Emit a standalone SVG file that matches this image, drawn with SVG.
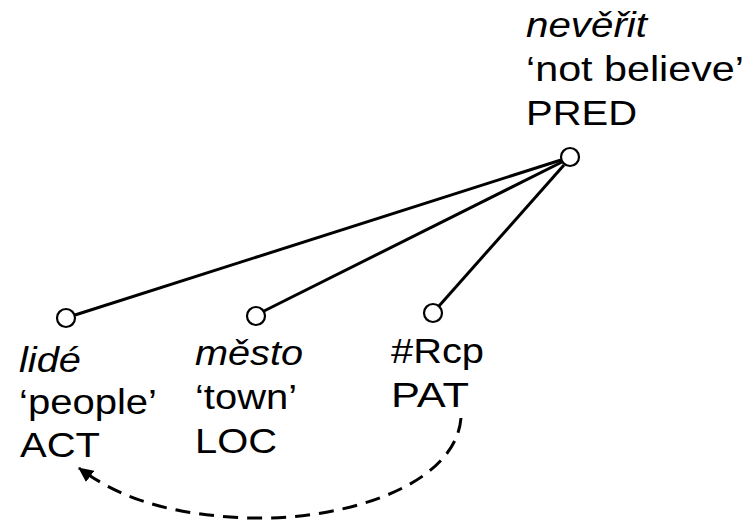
<svg xmlns="http://www.w3.org/2000/svg" width="747" height="521" viewBox="0 0 747 521">
<defs>
<style>
text{font-family:"Liberation Sans",Arial,sans-serif;font-size:35px;fill:#000}
.it{font-style:italic}
.node{fill:#fff;stroke:#000;stroke-width:2.2}
.edge{stroke:#000;stroke-width:3;fill:none}
.dash{stroke:#000;stroke-width:3;fill:none;stroke-dasharray:15 9}
</style>
<marker id="arr" markerWidth="16" markerHeight="14" refX="14" refY="7" orient="auto" markerUnits="userSpaceOnUse">
<path d="M0,0 L15,7 L0,14 Z" fill="#000"/>
</marker>
</defs>
<rect width="747" height="521" fill="#fff"/>
<g id="connectors">
<line class="edge" x1="561" y1="160" x2="75" y2="315"/>
<line class="edge" x1="562" y1="162" x2="264" y2="311"/>
<line class="edge" x1="564" y1="165" x2="439" y2="306"/>
<path class="dash" d="M461 418 C455 490 330 525 230 517 C160 512 115 495 79 468" marker-end="url(#arr)"/>
</g>
<g id="pred">
<circle class="node" cx="570" cy="157" r="9"/>
<text class="it" x="526" y="37" textLength="121" lengthAdjust="spacingAndGlyphs">nevěřit</text>
<text x="526" y="81" textLength="218" lengthAdjust="spacingAndGlyphs">‘not believe’</text>
<text x="526" y="125" textLength="111" lengthAdjust="spacingAndGlyphs">PRED</text>
</g>
<g id="act">
<circle class="node" cx="66" cy="318" r="9"/>
<text class="it" x="19" y="372" textLength="62" lengthAdjust="spacingAndGlyphs">lidé</text>
<text x="19" y="414" textLength="138" lengthAdjust="spacingAndGlyphs">‘people’</text>
<text x="20" y="457" textLength="80" lengthAdjust="spacingAndGlyphs">ACT</text>
</g>
<g id="loc">
<circle class="node" cx="256" cy="316" r="9"/>
<text class="it" x="195" y="365" textLength="108" lengthAdjust="spacingAndGlyphs">město</text>
<text x="195" y="409" textLength="102" lengthAdjust="spacingAndGlyphs">‘town’</text>
<text x="195" y="453" textLength="82" lengthAdjust="spacingAndGlyphs">LOC</text>
</g>
<g id="pat">
<circle class="node" cx="433" cy="313" r="9"/>
<text x="391" y="363" textLength="93" lengthAdjust="spacingAndGlyphs">#Rcp</text>
<text x="391" y="407" textLength="78" lengthAdjust="spacingAndGlyphs">PAT</text>
</g>
</svg>
